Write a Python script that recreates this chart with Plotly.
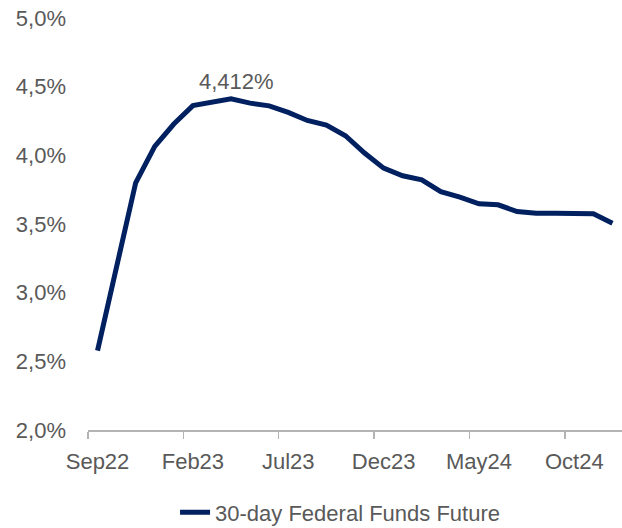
import plotly.graph_objects as go

months = ["Sep22","Oct22","Nov22","Dec22","Jan23","Feb23","Mar23","Apr23","May23","Jun23",
          "Jul23","Aug23","Sep23","Oct23","Nov23","Dec23","Jan24","Feb24","Mar24","Apr24",
          "May24","Jun24","Jul24","Aug24","Sep24","Oct24","Nov24","Dec24"]
values = [2.578, 3.17, 3.80, 4.065, 4.228, 4.362, 4.386, 4.412, 4.38, 4.36,
          4.313, 4.254, 4.22, 4.143, 4.017, 3.907, 3.851, 3.822, 3.735, 3.696,
          3.647, 3.640, 3.591, 3.579, 3.578, 3.576, 3.574, 3.506]
series_name = "30-day Federal Funds Future"
peak_label = "4,412%"
y_ticks = [2.0, 2.5, 3.0, 3.5, 4.0, 4.5, 5.0]
y_labels = ["2,0%", "2,5%", "3,0%", "3,5%", "4,0%", "4,5%", "5,0%"]

idx = list(range(len(months)))
label_idx = idx[::5]
label_txt = [months[i] for i in label_idx]
peak_i = values.index(max(values))

FONT = "Liberation Sans, Arial, sans-serif"
FS = 22
GRAY = "#595959"
NAVY = "#002060"
AXIS = "#B4B4B4"

fig = go.Figure()
fig.add_trace(go.Scatter(
    x=idx, y=values, mode="lines", name=series_name,
    line=dict(color=NAVY, width=5),
))
fig.add_annotation(x=peak_i, y=values[peak_i], text=peak_label, showarrow=False,
                   yanchor="bottom", yshift=3, xshift=5,
                   font=dict(family=FONT, size=FS, color=GRAY))

fig.update_layout(
    width=622, height=528,
    margin=dict(l=88, r=0, t=18, b=98, autoexpand=False),
    paper_bgcolor="white", plot_bgcolor="white",
    font=dict(family=FONT, size=FS, color=GRAY),
    showlegend=True,
    legend=dict(orientation="h", x=0.163, xanchor="left", y=-0.2, yanchor="middle",
                font=dict(family=FONT, size=FS, color=GRAY), bgcolor="rgba(0,0,0,0)"),
    xaxis=dict(
        range=[-0.5, len(months) - 0.5],
        tickmode="array", tickvals=label_idx, ticktext=label_txt,
        ticks="", showgrid=False, zeroline=False, automargin=False,
        showline=True, linecolor=AXIS, linewidth=1.5,
        ticklabelstandoff=11,
        minor=dict(ticks="outside", tickmode="linear", tick0=-0.5, dtick=5,
                   ticklen=7, tickcolor=AXIS, tickwidth=1.5, showgrid=False),
        fixedrange=True,
    ),
    yaxis=dict(
        range=[2.0, 5.0],
        tickmode="array", tickvals=y_ticks, ticktext=y_labels,
        ticks="", showgrid=False, zeroline=False, showline=False, automargin=False,
        ticklabelstandoff=21,
        fixedrange=True,
    ),
)

fig.write_html("out.html", config={"displayModeBar": False, "staticPlot": True})
with open("out.html", "r", encoding="utf-8") as f:
    html = f.read()
html = html.replace("<head>", "<head><style>html,body{margin:0;padding:0;overflow:hidden;}</style>", 1)
with open("out.html", "w", encoding="utf-8") as f:
    f.write(html)
